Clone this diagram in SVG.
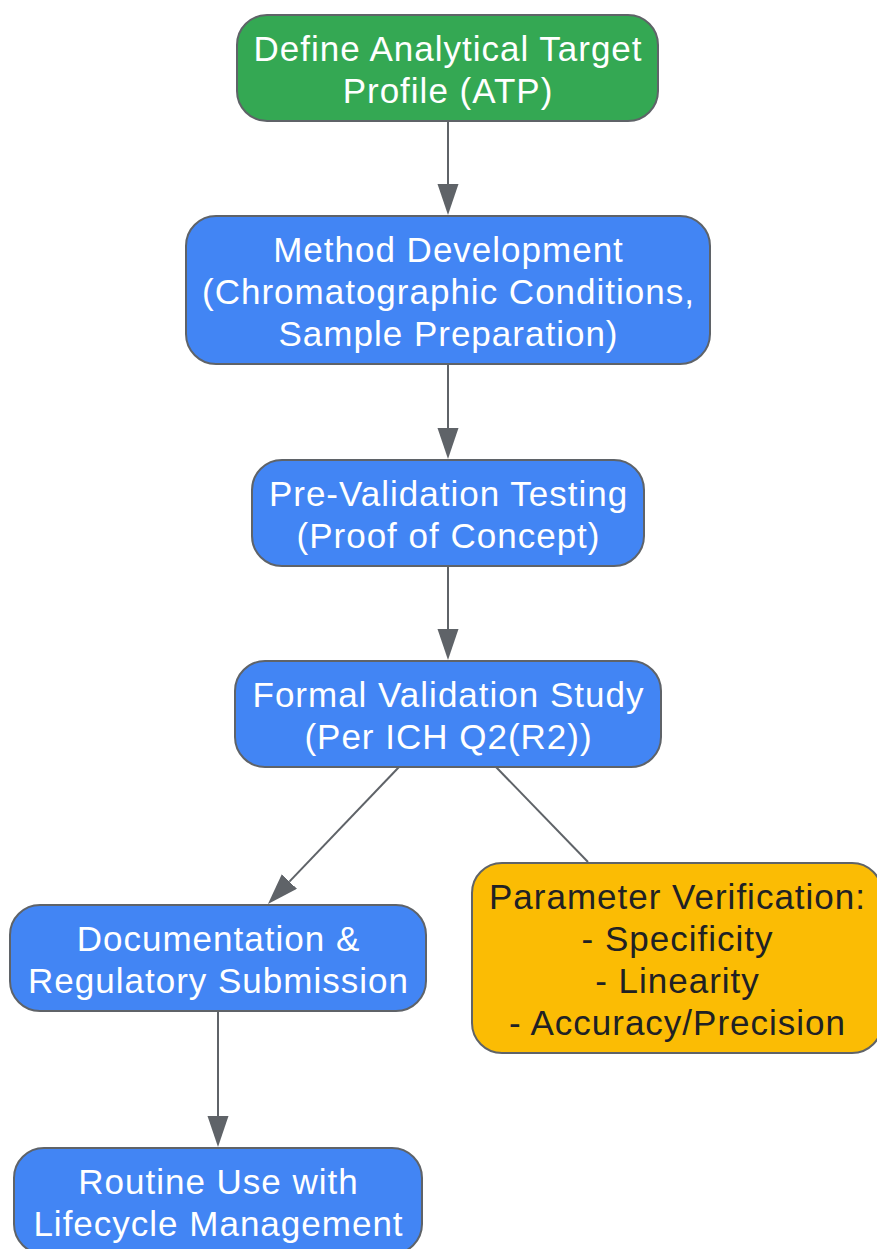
<svg xmlns="http://www.w3.org/2000/svg" width="877" height="1249" viewBox="0 0 877 1249">
<defs>
<marker id="ah" markerUnits="userSpaceOnUse" markerWidth="32" markerHeight="22" refX="0" refY="10.5" orient="auto" viewBox="0 0 32 22">
<path d="M0,0 L31,10.5 L0,21 z" fill="#5f6368"/>
</marker>
<style>
.n{stroke:#5f6368;stroke-width:2}
.g{fill:#34a853}
.b{fill:#4285f4}
.y{fill:#fbbc04}
.t{font-family:"Liberation Sans",Arial,sans-serif;font-size:35px;letter-spacing:1px;text-anchor:middle;fill:#ffffff}
.td{fill:#202124}
.c{stroke:#5f6368;stroke-width:2;fill:none}
</style>
</defs>
<rect width="877" height="1249" fill="#ffffff"/>
<g id="connectors">
<line class="c" x1="448" y1="121" x2="448" y2="184" marker-end="url(#ah)"/>
<line class="c" x1="448" y1="364" x2="448" y2="428" marker-end="url(#ah)"/>
<line class="c" x1="448" y1="566" x2="448" y2="629" marker-end="url(#ah)"/>
<line class="c" x1="399" y1="767" x2="289.4" y2="881.6" marker-end="url(#ah)"/>
<line class="c" x1="496" y1="767" x2="588" y2="862"/>
<line class="c" x1="218" y1="1011" x2="218" y2="1116" marker-end="url(#ah)"/>
</g>
<g id="node-atp">
<rect class="n g" x="237" y="15" width="421" height="106" rx="30"/>
<text class="t"><tspan x="448" y="61">Define Analytical Target</tspan><tspan x="448" y="103">Profile (ATP)</tspan></text>
</g>
<g id="node-method">
<rect class="n b" x="186" y="216" width="524" height="148" rx="30"/>
<text class="t"><tspan x="448.5" y="262">Method Development</tspan><tspan x="448.5" y="304">(Chromatographic Conditions,</tspan><tspan x="448.5" y="346">Sample Preparation)</tspan></text>
</g>
<g id="node-prevalidation">
<rect class="n b" x="252" y="460" width="392" height="106" rx="30"/>
<text class="t"><tspan x="448.5" y="506">Pre-Validation Testing</tspan><tspan x="448.5" y="548">(Proof of Concept)</tspan></text>
</g>
<g id="node-formal">
<rect class="n b" x="235" y="661" width="426" height="106" rx="30"/>
<text class="t"><tspan x="448.5" y="707">Formal Validation Study</tspan><tspan x="448.5" y="749">(Per ICH Q2(R2))</tspan></text>
</g>
<g id="node-documentation">
<rect class="n b" x="10" y="905" width="416" height="106" rx="30"/>
<text class="t"><tspan x="218.5" y="951">Documentation &amp;</tspan><tspan x="218.5" y="993">Regulatory Submission</tspan></text>
</g>
<g id="node-parameters">
<rect class="n y" x="472" y="863" width="410" height="190" rx="30"/>
<text class="t td"><tspan x="677.5" y="909">Parameter Verification:</tspan><tspan x="677.5" y="951">- Specificity</tspan><tspan x="677.5" y="993">- Linearity</tspan><tspan x="677.5" y="1035">- Accuracy/Precision</tspan></text>
</g>
<g id="node-routine">
<rect class="n b" x="14" y="1148" width="408" height="106" rx="30"/>
<text class="t"><tspan x="218.5" y="1194">Routine Use with</tspan><tspan x="218.5" y="1236">Lifecycle Management</tspan></text>
</g>
</svg>
